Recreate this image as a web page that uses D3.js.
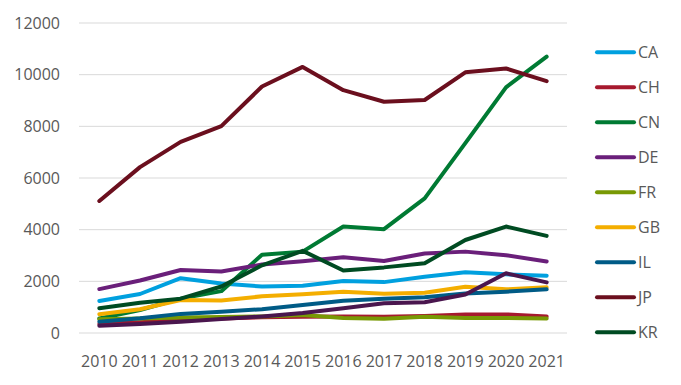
<!DOCTYPE html>
<html>
<head>
<meta charset="utf-8">
<script src="https://cdn.jsdelivr.net/npm/d3@7"></script>
<style>
  body { margin: 0; background: #fff; }
  text { font-family: "Open Sans", sans-serif; fill: #595959; }
</style>
</head>
<body>
<div id="chart"></div>
<script>
const years = [2010, 2011, 2012, 2013, 2014, 2015, 2016, 2017, 2018, 2019, 2020, 2021];
const yTicks = [0, 2000, 4000, 6000, 8000, 10000, 12000];

// country codes shown in the legend
const legendKeys = ['CA', 'CH', 'CN', 'DE', 'FR', 'GB', 'IL', 'JP', 'KR'];

const CA = [1240, 1510, 2120, 1920, 1800, 1830, 2010, 1970, 2180, 2350, 2270, 2220];
const CH = [350, 420, 500, 560, 610, 630, 640, 630, 660, 720, 720, 640];
const CN = [560, 890, 1330, 1620, 3030, 3150, 4120, 4020, 5210, 7350, 9510, 10700];
const DE = [1700, 2030, 2440, 2380, 2650, 2780, 2930, 2790, 3080, 3150, 3010, 2770];
const FR = [530, 560, 600, 620, 640, 700, 580, 550, 630, 580, 580, 560];
const GB = [730, 920, 1280, 1260, 1420, 1500, 1600, 1520, 1560, 1790, 1690, 1770];
const IL = [440, 570, 740, 820, 920, 1080, 1250, 1330, 1380, 1530, 1600, 1690];
const JP = [5110, 6420, 7400, 8010, 9540, 10300, 9400, 8950, 9020, 10090, 10240, 9750];
const KR = [960, 1170, 1330, 1800, 2620, 3180, 2420, 2540, 2700, 3600, 4120, 3760];
const OTHER = [280, 350, 440, 540, 640, 770, 960, 1150, 1190, 1490, 2310, 1960];

const colors = {
  CA: '#00a0df', CH: '#a6192e', CN: '#007a33', DE: '#6a1f7a', FR: '#789904',
  GB: '#f4ae00', IL: '#005b86', JP: '#6b0f1e', KR: '#004b22', OTHER: '#4a164e'
};

const series = [
  {key: 'CA', values: CA}, {key: 'CH', values: CH}, {key: 'CN', values: CN},
  {key: 'DE', values: DE}, {key: 'FR', values: FR}, {key: 'GB', values: GB},
  {key: 'IL', values: IL}, {key: 'KR', values: KR}, {key: 'OTHER', values: OTHER},
  {key: 'JP', values: JP}
];

const width = 681, height = 385;

const svg = d3.select('#chart').append('svg')
  .attr('width', width)
  .attr('height', height);

const x = d3.scalePoint().domain(years).range([79, 567]).padding(0.5);
const y = d3.scaleLinear().domain([0, 12000]).range([333, 23]);

// gridlines
svg.append('g')
  .selectAll('line')
  .data(yTicks)
  .enter()
  .append('line')
  .attr('x1', 79).attr('x2', 567)
  .attr('y1', d => y(d)).attr('y2', d => y(d))
  .attr('stroke', '#d9d9d9')
  .attr('stroke-width', 1);

// y labels
svg.append('g')
  .selectAll('text')
  .data(yTicks)
  .enter()
  .append('text')
  .attr('x', 60)
  .attr('y', d => y(d))
  .attr('dy', '0.35em')
  .attr('text-anchor', 'end')
  .style('font-size', '16px')
  .text(d => d);

// x labels
svg.append('g')
  .selectAll('text')
  .data(years)
  .enter()
  .append('text')
  .attr('x', d => x(d))
  .attr('y', 367)
  .attr('text-anchor', 'middle')
  .style('font-size', '16px')
  .text(d => d);

const line = d3.line()
  .x((d, i) => x(years[i]))
  .y(d => y(d));

svg.append('g')
  .selectAll('path')
  .data(series)
  .enter()
  .append('path')
  .attr('d', d => line(d.values))
  .attr('fill', 'none')
  .attr('stroke', d => colors[d.key])
  .attr('stroke-width', 4)
  .attr('stroke-linejoin', 'round')
  .attr('stroke-linecap', 'round');

// legend
const legend = svg.append('g')
  .selectAll('g')
  .data(legendKeys)
  .enter()
  .append('g')
  .attr('transform', (d, i) => `translate(0,${52.3 + i * 35})`);

legend.append('line')
  .attr('x1', 597).attr('x2', 634)
  .attr('stroke', d => colors[d])
  .attr('stroke-width', 4)
  .attr('stroke-linecap', 'round');

legend.append('text')
  .attr('x', 638)
  .attr('dy', '0.36em')
  .style('font-size', '16px')
  .text(d => d);
</script>
</body>
</html>
